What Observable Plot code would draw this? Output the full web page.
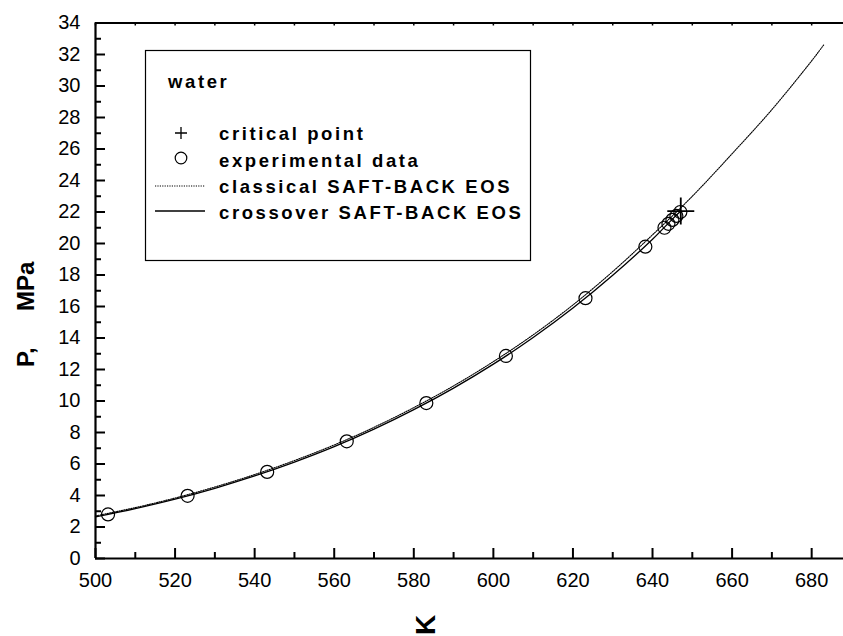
<!DOCTYPE html>
<html><head><meta charset="utf-8">
<script src="https://cdn.jsdelivr.net/npm/d3@7"></script>
<script src="https://cdn.jsdelivr.net/npm/@observablehq/plot@0.6"></script>
<style>
html,body{margin:0;padding:0;background:#fff;}
#chart{position:relative;width:843px;height:636px;overflow:hidden;}
</style></head><body><div id="chart"></div>
<script>
// experimental saturation data (T in K, P in MPa)
const expT = [503.15, 523.15, 543.15, 563.15, 583.15, 603.15, 623.15, 638.2, 643.0, 644.0, 645.0, 646.0, 647.0];
const expP = [2.80, 3.98, 5.50, 7.44, 9.87, 12.86, 16.53, 19.8, 21.0, 21.25, 21.5, 21.75, 22.0];
// critical point
const critT = [647.1];
const critP = [22.06];
// crossover SAFT-BACK EOS (solid)
const crossT = [500, 510, 520, 530, 540, 550, 560, 570, 580, 590, 600, 610, 620, 630, 640, 645, 647.1];
const crossP = [2.64, 3.17, 3.77, 4.46, 5.24, 6.12, 7.10, 8.21, 9.45, 10.82, 12.34, 14.03, 15.90, 17.98, 20.27, 21.55, 22.06];
// classical SAFT-BACK EOS (dotted)
const classT = [500, 510, 520, 530, 540, 550, 560, 570, 580, 590, 600, 610, 620, 630, 640, 650, 660, 670, 680, 683];
const classP = [2.70, 3.23, 3.84, 4.54, 5.33, 6.22, 7.21, 8.33, 9.58, 10.96, 12.50, 14.20, 16.10, 18.22, 20.55, 23.0, 25.7, 28.5, 31.6, 32.6];
// ticks
const xMajor = [500, 520, 540, 560, 580, 600, 620, 640, 660, 680];
const xMinor = [510, 530, 550, 570, 590, 610, 630, 650, 670];
const yMajor = [0, 2, 4, 6, 8, 10, 12, 14, 16, 18, 20, 22, 24, 26, 28, 30, 32, 34];
const yMinor = [1, 3, 5, 7, 9, 11, 13, 15, 17, 19, 21, 23, 25, 27, 29, 31, 33];
// legend
const legendTitle = "water";
const legendLabels = ["critical point", "experimental data", "classical SAFT-BACK EOS", "crossover SAFT-BACK EOS"];
const yLabelA = "P,";
const yLabelB = "MPa";
const xLabel = "K";

const W = 843, H = 636;
const mL = 95, mT = 22.5, mR = 0, mB = 78;

const idx = a => a.map((_, i) => i);
const plusLine = {
  draw(ctx, size) {
    const r = Math.sqrt(size / Math.PI);
    ctx.moveTo(-r, 0); ctx.lineTo(r, 0);
    ctx.moveTo(0, -r); ctx.lineTo(0, r);
  }
};

const chart = Plot.plot({
  width: W, height: H,
  marginLeft: mL, marginTop: mT, marginRight: mR, marginBottom: mB,
  style: {fontFamily: "'Liberation Sans', Arial, sans-serif", fontSize: "20px", background: "#fff", color: "#000"},
  x: {domain: [500, 688], label: null},
  y: {domain: [0, 34], label: null},
  marks: [
    Plot.axisX({ticks: xMajor, tickSize: 0, tickPadding: 14, fontSize: 20, label: null}),
    Plot.axisY({ticks: yMajor, tickSize: 0, tickPadding: 15, fontSize: 20, label: null}),
    // ticks pointing inward (bottom, top, left)
    Plot.ruleX(xMajor, {x: d => d, y1: 0, y2: 0, insetTop: -10, strokeWidth: 2}),
    Plot.ruleX(xMinor, {x: d => d, y1: 0, y2: 0, insetTop: -6, strokeWidth: 2}),
    Plot.ruleX(xMajor.concat(xMinor), {x: d => d, y1: 34, y2: 34, insetBottom: -3, strokeWidth: 1.5}),
    Plot.ruleY(yMajor, {y: d => d, x1: 500, x2: 500, insetRight: -10, strokeWidth: 2}),
    Plot.ruleY(yMinor, {y: d => d, x1: 500, x2: 500, insetRight: -6, strokeWidth: 2}),
    // frame
    Plot.ruleY([0], {strokeWidth: 2.2}),
    Plot.ruleY([34], {strokeWidth: 2.2}),
    Plot.ruleX([500], {strokeWidth: 2.2}),
    // curves
    Plot.line(idx(classT), {x: i => classT[i], y: i => classP[i], curve: "catmull-rom", stroke: "#000", strokeWidth: 1.1, strokeDasharray: "1.2,1.2"}),
    Plot.line(idx(crossT), {x: i => crossT[i], y: i => crossP[i], curve: "catmull-rom", stroke: "#000", strokeWidth: 1.3}),
    // data
    Plot.dot(idx(expT), {x: i => expT[i], y: i => expP[i], r: 6.5, fill: "none", stroke: "#000", strokeWidth: 1.2}),
    Plot.dot(idx(critT), {x: i => critT[i], y: i => critP[i], symbol: plusLine, r: 13.5, fill: "none", stroke: "#000", strokeWidth: 1.8})
  ]
});

document.getElementById("chart").appendChild(chart);
const svg = d3.select(chart);

// axis titles
const fam = "'Liberation Sans', Arial, sans-serif";
const title = s => s.attr("font-family", fam).attr("font-weight", "bold").attr("text-anchor", "start").attr("fill", "#000");
svg.append("text").attr("transform", "translate(34,367) rotate(-90)").attr("font-size", 24).call(title).text(yLabelA);
svg.append("text").attr("transform", "translate(34,311) rotate(-90)").attr("font-size", 24).call(title).text(yLabelB);
svg.append("text").attr("transform", "translate(435,635) rotate(-90)").attr("font-size", 28).call(title).text(xLabel);

// legend
const lg = svg.append("g");
lg.append("rect").attr("x", 145.5).attr("y", 50.5).attr("width", 385).attr("height", 210)
  .attr("fill", "#fff").attr("stroke", "#000").attr("stroke-width", 1.2);
const tstyle = s => s.attr("font-family", fam).attr("font-weight", "bold").attr("font-size", 18.5)
  .attr("text-anchor", "start").attr("letter-spacing", 2.6).attr("fill", "#000");
lg.append("text").attr("x", 168).attr("y", 88).text(legendTitle).call(tstyle);
const baselines = [140, 167, 193, 219];
const symY = [133, 158, 186, 211];
legendLabels.forEach((l, i) => lg.append("text").attr("x", 219).attr("y", baselines[i]).text(l).call(tstyle));
lg.append("path").attr("d", `M175,${symY[0]}H187M181,${symY[0]-6}V${symY[0]+6}`).attr("stroke", "#000").attr("stroke-width", 1.3);
lg.append("circle").attr("cx", 181).attr("cy", symY[1]).attr("r", 5.8).attr("fill", "none").attr("stroke", "#000").attr("stroke-width", 1.2);
lg.append("line").attr("x1", 155).attr("x2", 205).attr("y1", symY[2]).attr("y2", symY[2]).attr("stroke", "#000").attr("stroke-width", 1.1).attr("stroke-dasharray", "1.2,1.2");
lg.append("line").attr("x1", 155).attr("x2", 205).attr("y1", symY[3]).attr("y2", symY[3]).attr("stroke", "#000").attr("stroke-width", 1.3);
</script></body></html>
